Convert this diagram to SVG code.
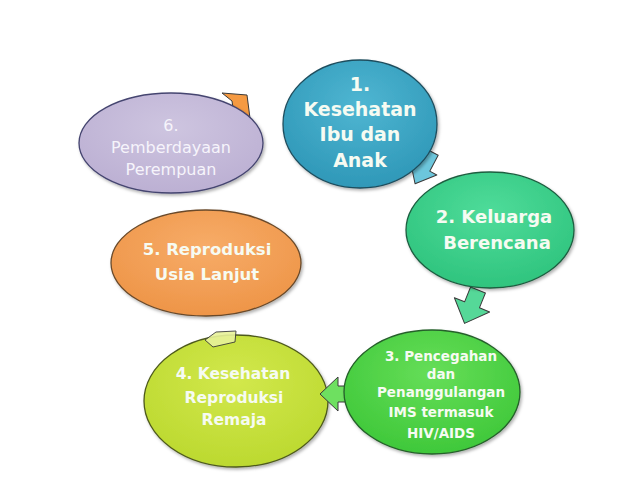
<svg xmlns="http://www.w3.org/2000/svg" width="638" height="479" viewBox="0 0 638 479">
<defs>
<radialGradient id="gBlue" cx="50%" cy="35%" r="65%"><stop offset="0" stop-color="#4fb6d2"/><stop offset="1" stop-color="#2f98b8"/></radialGradient>
<radialGradient id="gTeal" cx="50%" cy="35%" r="65%"><stop offset="0" stop-color="#4fdc9a"/><stop offset="1" stop-color="#2fc47e"/></radialGradient>
<radialGradient id="gGreen" cx="50%" cy="35%" r="65%"><stop offset="0" stop-color="#66de58"/><stop offset="1" stop-color="#3fc83a"/></radialGradient>
<radialGradient id="gLime" cx="50%" cy="35%" r="65%"><stop offset="0" stop-color="#d2e84c"/><stop offset="1" stop-color="#bcd930"/></radialGradient>
<radialGradient id="gOrange" cx="50%" cy="35%" r="65%"><stop offset="0" stop-color="#f7ac68"/><stop offset="1" stop-color="#ee9548"/></radialGradient>
<radialGradient id="gLav" cx="50%" cy="35%" r="65%"><stop offset="0" stop-color="#cec5e0"/><stop offset="1" stop-color="#bcb0d3"/></radialGradient>
<filter id="sh" x="-10%" y="-10%" width="125%" height="130%"><feDropShadow dx="1.5" dy="2" stdDeviation="1.5" flood-color="#000" flood-opacity="0.3"/></filter>
</defs>
<style>
.node ellipse{stroke-width:1.3;filter:url(#sh)}
.t{font-family:"DejaVu Sans","Liberation Sans",sans-serif;font-weight:bold;fill:#f6fbf2;text-anchor:middle}
.t6{font-family:"DejaVu Sans","Liberation Sans",sans-serif;fill:#f6f4fb;text-anchor:middle}
.arr path{stroke:#3a3a3a;stroke-width:1;stroke-linejoin:round}
</style>
<rect width="638" height="479" fill="#ffffff"/>
<g id="node4" class="node">
<ellipse cx="236" cy="401" rx="92" ry="66" fill="url(#gLime)" stroke="#4e5a1c"/>
<text class="t" font-size="15.5" x="233" y="379">4. Kesehatan</text>
<text class="t" font-size="15.5" x="234" y="403">Reproduksi</text>
<text class="t" font-size="15.5" x="234" y="425">Remaja</text>
</g>
<g id="connectors" class="arr">
<path d="M0,-7 L18,-7 L18,-15 L36,0 L18,15 L18,7 L0,7 Z" transform="translate(432,152) rotate(118)" fill="#6cc6dc"/>
<path d="M0,-8 L16,-8 L16,-19 L36,0 L16,19 L16,8 L0,8 Z" transform="translate(478,290) rotate(112)" fill="#55d898"/>
<path d="M0,-8 L14,-8 L14,-17 L32,0 L14,17 L14,8 L0,8 Z" transform="translate(352,394) rotate(180)" fill="#6ee060"/>
<path d="M205,340 L216,332 L236,331 L235,342 L213,347 Z" fill="#e8f29a" opacity="0.9"/>
<path d="M222,93 L247,95 L251,126 L236,128 L232,101 Z" fill="#f59a42"/>
</g>
<g id="node6" class="node">
<ellipse cx="171" cy="143" rx="92" ry="50" fill="url(#gLav)" stroke="#454570"/>
<text class="t6" font-size="16" x="171" y="131">6.</text>
<text class="t6" font-size="16" x="171" y="153">Pemberdayaan</text>
<text class="t6" font-size="16" x="171" y="175">Perempuan</text>
</g>
<g id="node1" class="node">
<ellipse cx="360" cy="124" rx="77" ry="64" fill="url(#gBlue)" stroke="#1f4e5e"/>
<text class="t" font-size="19" x="360" y="91">1.</text>
<text class="t" font-size="19" x="360" y="116">Kesehatan</text>
<text class="t" font-size="19" x="360" y="141">Ibu dan</text>
<text class="t" font-size="19" x="360" y="167">Anak</text>
</g>
<g id="node2" class="node">
<ellipse cx="490" cy="230" rx="84" ry="58" fill="url(#gTeal)" stroke="#1e5e40"/>
<text class="t" font-size="18" x="494" y="223">2. Keluarga</text>
<text class="t" font-size="18" x="497" y="249">Berencana</text>
</g>
<g id="node3" class="node">
<ellipse cx="432" cy="392" rx="88" ry="62" fill="url(#gGreen)" stroke="#25602a"/>
<text class="t" font-size="13.5" x="441" y="361">3. Pencegahan</text>
<text class="t" font-size="13.5" x="441" y="379">dan</text>
<text class="t" font-size="13.5" x="441" y="397">Penanggulangan</text>
<text class="t" font-size="13.5" x="441" y="417">IMS termasuk</text>
<text class="t" font-size="13.5" x="441" y="438">HIV/AIDS</text>
</g>
<g id="node5" class="node">
<ellipse cx="206" cy="263" rx="95" ry="53" fill="url(#gOrange)" stroke="#6a4a2a"/>
<text class="t" font-size="16.5" x="207" y="255">5. Reproduksi</text>
<text class="t" font-size="16.5" x="207" y="280">Usia Lanjut</text>
</g>
</svg>
